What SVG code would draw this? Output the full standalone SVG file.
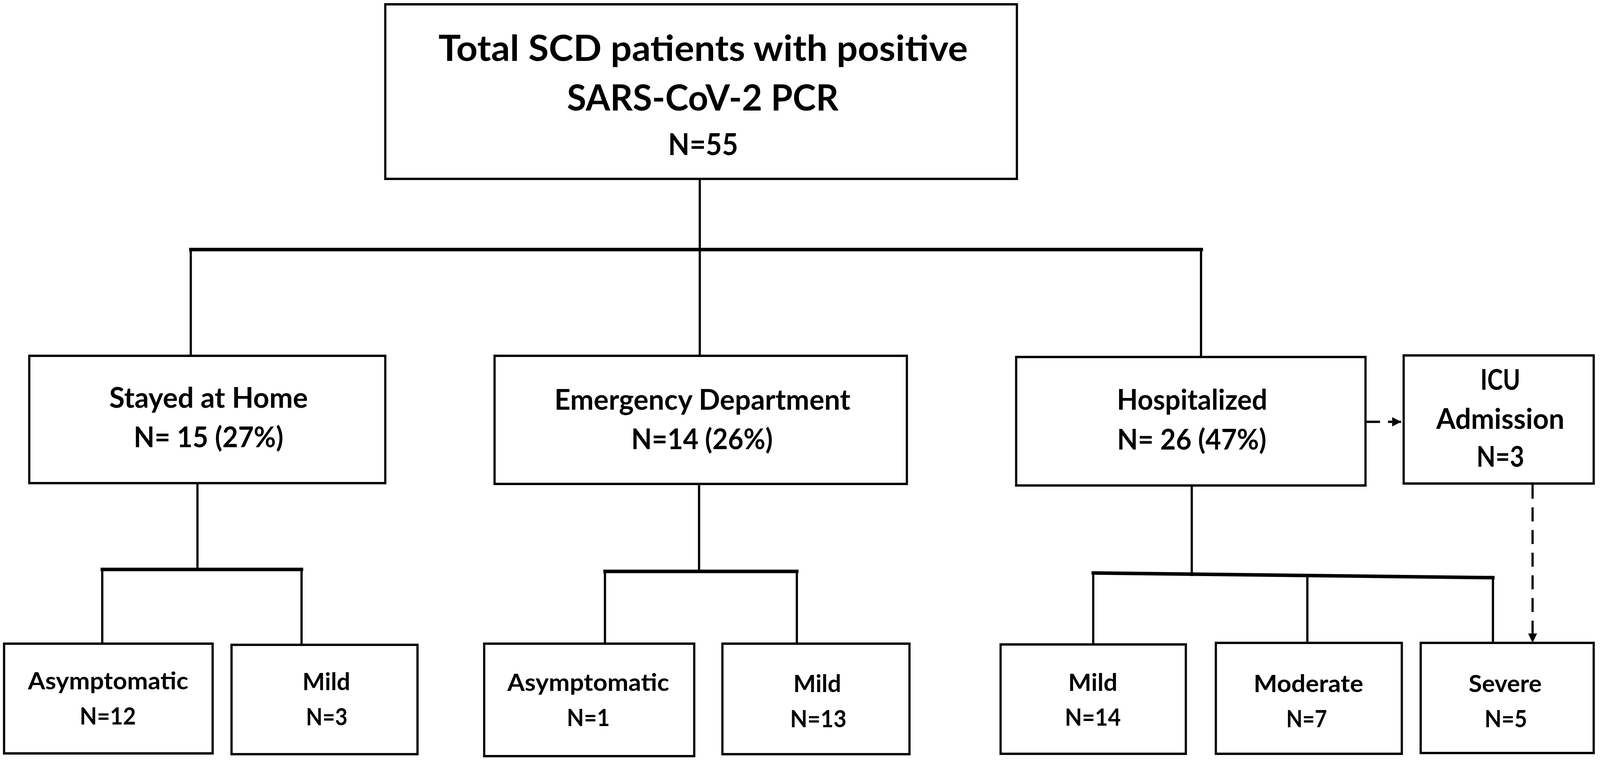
<svg xmlns="http://www.w3.org/2000/svg" width="4319" height="1951" viewBox="0 0 4319 1951" preserveAspectRatio="none" style="width:100vw;height:100vh;display:block">
<style>
.box{fill:#ffffff;stroke:#000000;stroke-width:6}
.ln{fill:none;stroke:#000000;stroke-width:6;stroke-linecap:square}
.bar{fill:none;stroke:#000000;stroke-width:9;stroke-linecap:square}
.dash{fill:none;stroke:#000000;stroke-width:6;stroke-dasharray:36 22}
text{font-family:Lato,"Liberation Sans",sans-serif;font-weight:bold;fill:#000000;text-anchor:middle}
.t1{font-size:92px}
.t2{font-size:76px}
.m{font-size:72px}
.s{font-size:62px}
</style>
<defs>
<marker id="arr" markerUnits="userSpaceOnUse" viewBox="0 0 10 10" markerWidth="24" markerHeight="24" refX="10" refY="5" orient="auto">
<path d="M0,0 L10,5 L0,10 z" fill="#000000"/>
</marker>
</defs>
<rect width="4319" height="1951" fill="#ffffff"/>
<g id="connectors">
<path class="ln" d="M1889,458 V639"/>
<path class="bar" d="M515,639 H3243"/>
<path class="ln" d="M515,639 V911 M1889,639 V911 M3242,639 V914"/>
<path class="ln" d="M533,1237 V1458"/>
<path class="bar" d="M276,1458 H814"/>
<path class="ln" d="M276,1458 V1648 M814,1458 V1651"/>
<path class="ln" d="M1887,1239 V1463"/>
<path class="bar" d="M1633,1463 H2151"/>
<path class="ln" d="M1633,1463 V1648 M2151,1463 V1648"/>
<path class="ln" d="M3217,1243 V1472"/>
<path class="bar" d="M2951,1467 L4030,1479"/>
<path class="ln" d="M2951,1467 V1650 M3529,1473 V1646 M4030,1479 V1646"/>
<path class="dash" d="M3689,1080 H3782" marker-end="url(#arr)"/>
<path class="dash" d="M4137,1241 V1646" marker-end="url(#arr)"/>
</g>
<g id="total">
<rect class="box" x="1040" y="11" width="1705" height="447"/>
<text class="t1" x="1898" y="156" textLength="1429" lengthAdjust="spacingAndGlyphs">Total SCD patients with positive</text>
<text class="t1" x="1897" y="283" textLength="733" lengthAdjust="spacingAndGlyphs">SARS-CoV-2 PCR</text>
<text class="t2" x="1898" y="397" textLength="189" lengthAdjust="spacingAndGlyphs">N=55</text>
</g>
<g id="home">
<rect class="box" x="79" y="911" width="961" height="326"/>
<text class="m" x="563" y="1044" textLength="536" lengthAdjust="spacingAndGlyphs">Stayed at Home</text>
<text class="m" x="563" y="1145" textLength="404" lengthAdjust="spacingAndGlyphs">N= 15 (27%)</text>
</g>
<g id="ed">
<rect class="box" x="1335" y="911" width="1113" height="328"/>
<text class="m" x="1896" y="1049" textLength="799" lengthAdjust="spacingAndGlyphs">Emergency Department</text>
<text class="m" x="1895" y="1150" textLength="382" lengthAdjust="spacingAndGlyphs">N=14 (26%)</text>
</g>
<g id="hosp">
<rect class="box" x="2743" y="914" width="943" height="329"/>
<text class="m" x="3218" y="1049" textLength="406" lengthAdjust="spacingAndGlyphs">Hospitalized</text>
<text class="m" x="3217" y="1151" textLength="403" lengthAdjust="spacingAndGlyphs">N= 26 (47%)</text>
</g>
<g id="icu">
<rect class="box" x="3789" y="910" width="513" height="328"/>
<text class="m" x="4050" y="998" textLength="108" lengthAdjust="spacingAndGlyphs">ICU</text>
<text class="m" x="4050" y="1098" textLength="346" lengthAdjust="spacingAndGlyphs">Admission</text>
<text class="m" x="4050" y="1195" textLength="129" lengthAdjust="spacingAndGlyphs">N=3</text>
</g>
<g id="home-asym">
<rect class="box" x="11" y="1648" width="563" height="281"/>
<text class="s" x="292" y="1765" textLength="433" lengthAdjust="spacingAndGlyphs">Asymptomatic</text>
<text class="s" x="291" y="1855" textLength="152" lengthAdjust="spacingAndGlyphs">N=12</text>
</g>
<g id="home-mild">
<rect class="box" x="625" y="1651" width="502" height="280"/>
<text class="s" x="881" y="1767" textLength="129" lengthAdjust="spacingAndGlyphs">Mild</text>
<text class="s" x="882" y="1857" textLength="112" lengthAdjust="spacingAndGlyphs">N=3</text>
</g>
<g id="ed-asym">
<rect class="box" x="1307" y="1648" width="567" height="288"/>
<text class="s" x="1588" y="1769" textLength="437" lengthAdjust="spacingAndGlyphs">Asymptomatic</text>
<text class="s" x="1588" y="1859" textLength="116" lengthAdjust="spacingAndGlyphs">N=1</text>
</g>
<g id="ed-mild">
<rect class="box" x="1950" y="1648" width="505" height="283"/>
<text class="s" x="2206" y="1772" textLength="129" lengthAdjust="spacingAndGlyphs">Mild</text>
<text class="s" x="2209" y="1862" textLength="152" lengthAdjust="spacingAndGlyphs">N=13</text>
</g>
<g id="hosp-mild">
<rect class="box" x="2701" y="1650" width="500" height="280"/>
<text class="s" x="2950" y="1769" textLength="133" lengthAdjust="spacingAndGlyphs">Mild</text>
<text class="s" x="2950" y="1858" textLength="151" lengthAdjust="spacingAndGlyphs">N=14</text>
</g>
<g id="hosp-moderate">
<rect class="box" x="3282" y="1646" width="502" height="284"/>
<text class="s" x="3532" y="1772" textLength="296" lengthAdjust="spacingAndGlyphs">Moderate</text>
<text class="s" x="3527" y="1862" textLength="110" lengthAdjust="spacingAndGlyphs">N=7</text>
</g>
<g id="hosp-severe">
<rect class="box" x="3835" y="1646" width="467" height="282"/>
<text class="s" x="4063" y="1772" textLength="197" lengthAdjust="spacingAndGlyphs">Severe</text>
<text class="s" x="4065" y="1862" textLength="115" lengthAdjust="spacingAndGlyphs">N=5</text>
</g>
</svg>
